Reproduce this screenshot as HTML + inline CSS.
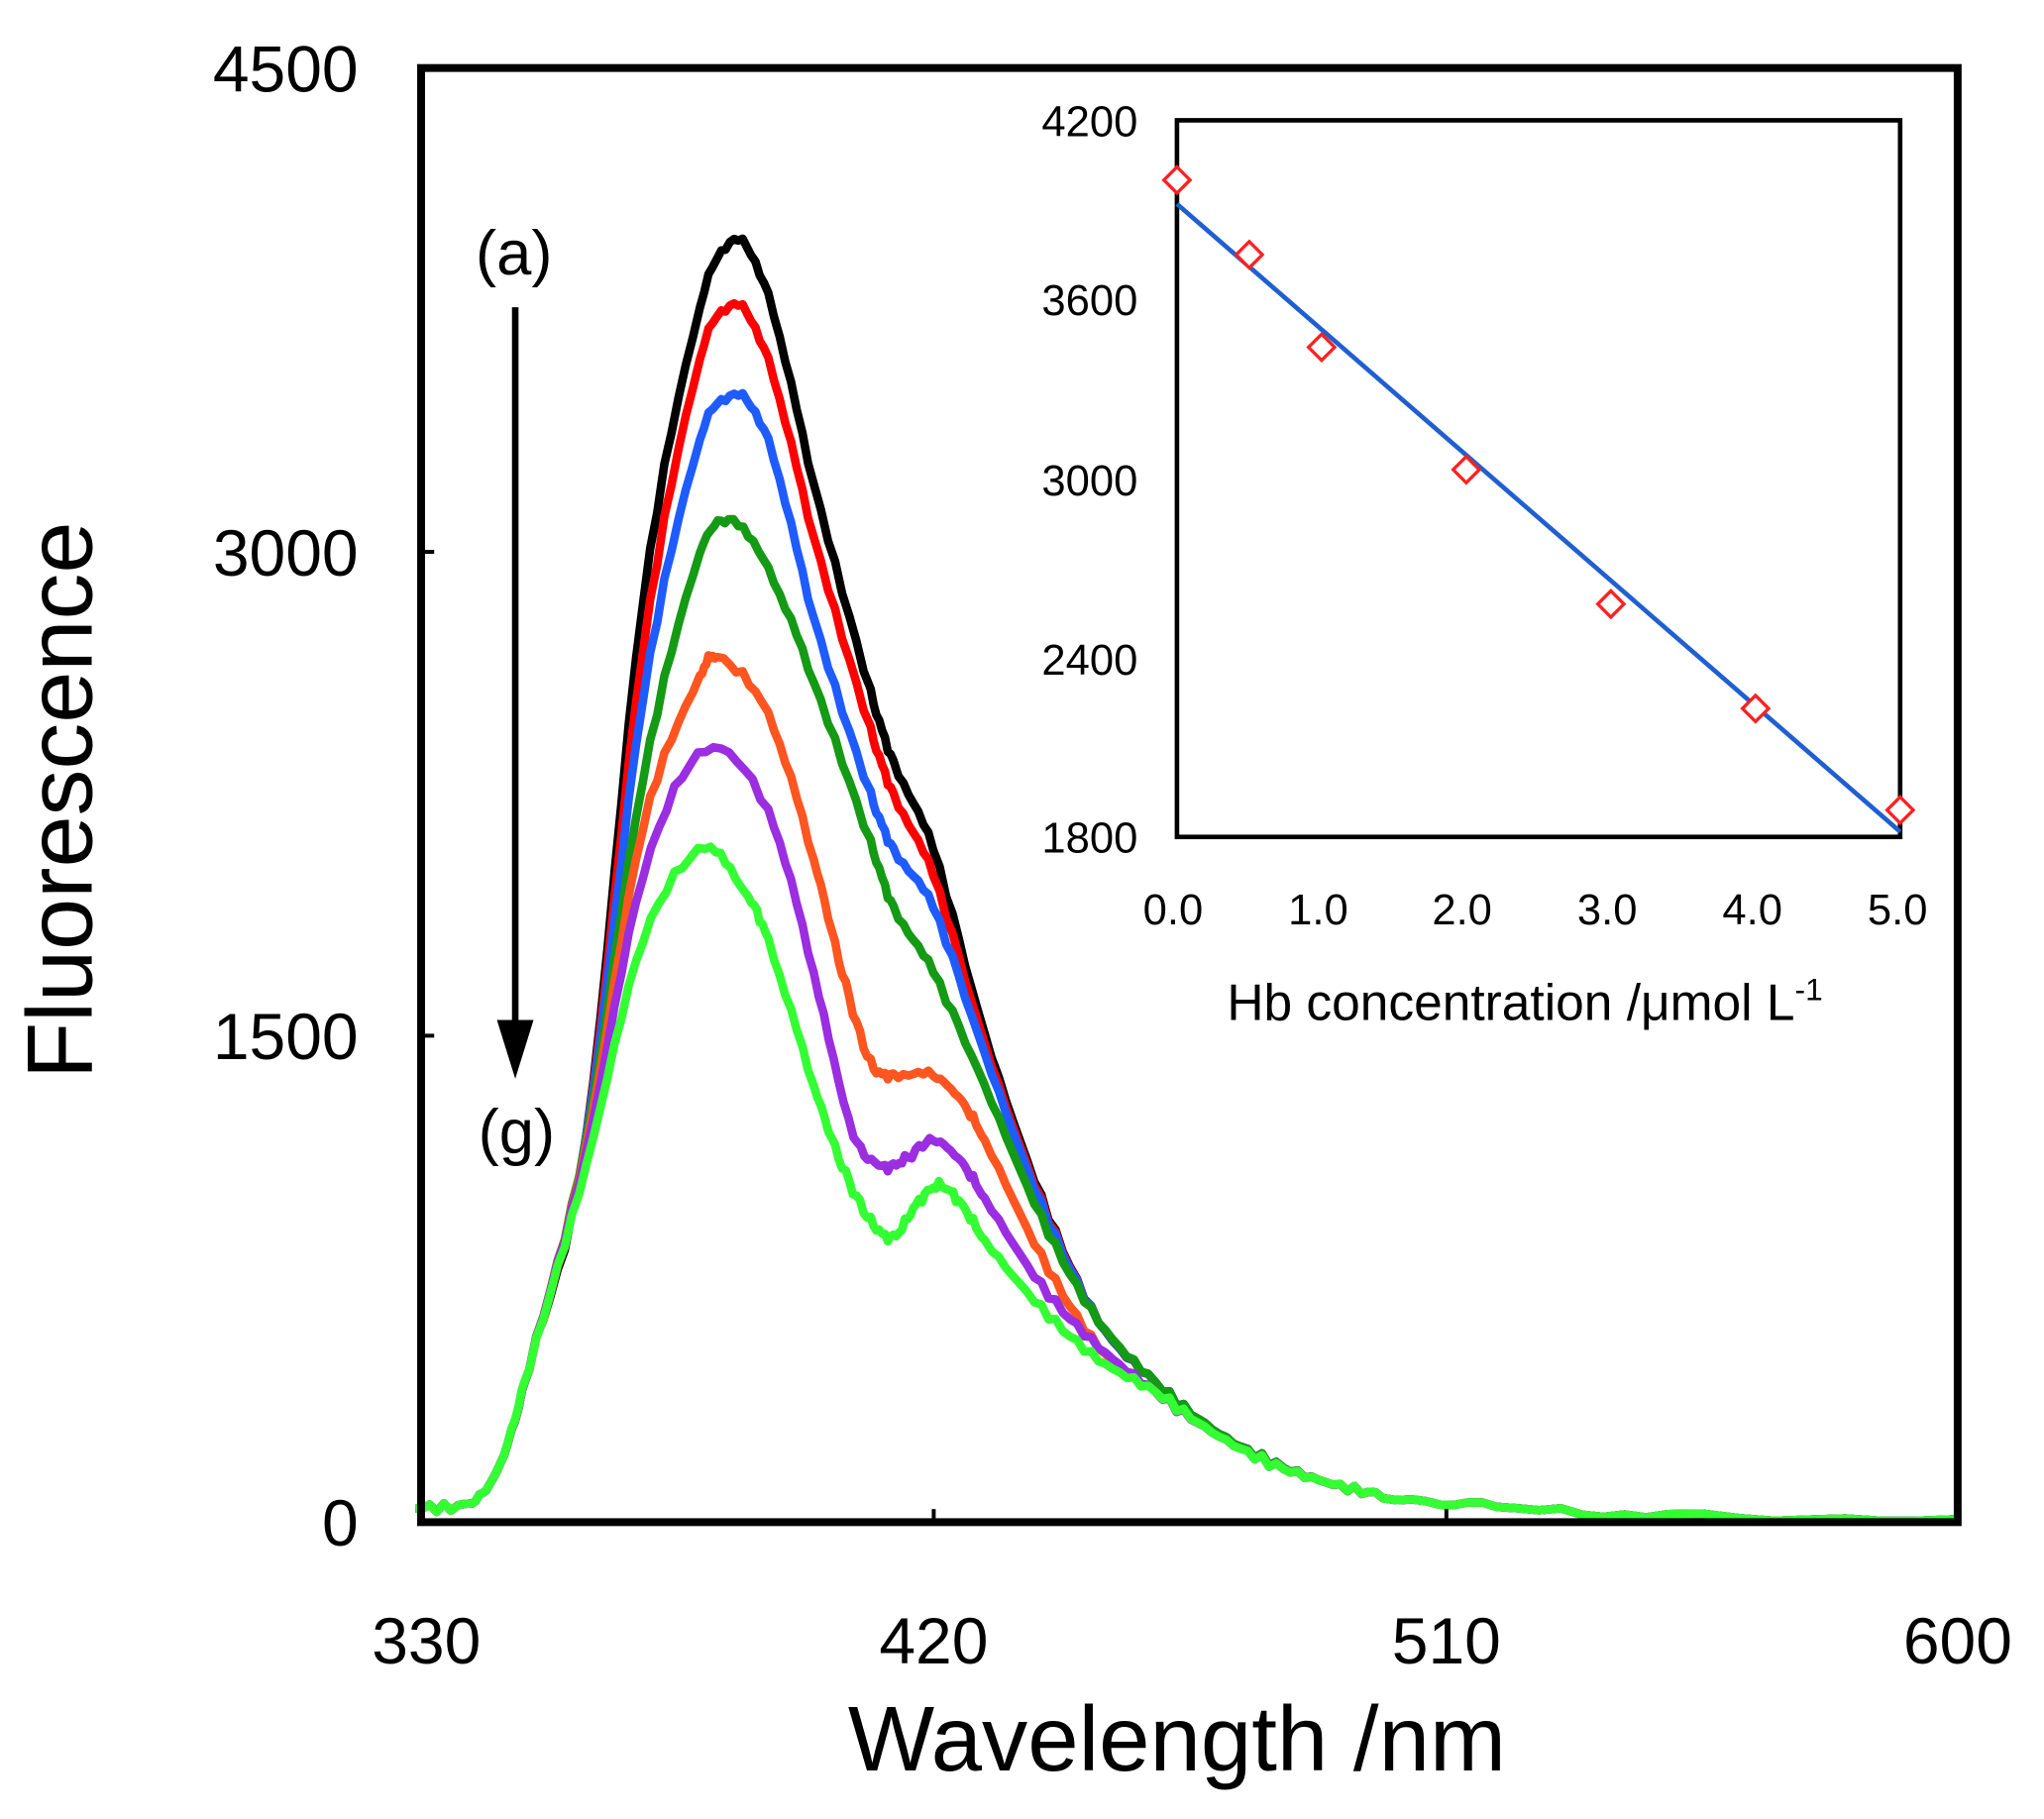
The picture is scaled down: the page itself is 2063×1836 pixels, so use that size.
<!DOCTYPE html>
<html><head><meta charset="utf-8"><style>
html,body{margin:0;padding:0;background:#fff}
svg{display:block}
text{font-family:"Liberation Sans",Arial,sans-serif}
</style></head><body>
<svg id="s" width="2063" height="1836" viewBox="0 0 1563 1391" xmlns="http://www.w3.org/2000/svg">
<rect width="1563" height="1391" fill="#fff"/>
<g id="curves" fill="none" stroke-width="6.5" stroke-linejoin="round"></g>
<rect x="322" y="52" width="1175" height="1112" fill="none" stroke="#000" stroke-width="6"/>
<g stroke="#000" stroke-width="3">
<line x1="322" y1="422" x2="332" y2="422"/><line x1="322" y1="792" x2="332" y2="792"/>
<line x1="714" y1="1164" x2="714" y2="1154"/><line x1="1106" y1="1164" x2="1106" y2="1154"/>
</g>
<g font-size="50" text-anchor="end">
<text x="274" y="70">4500</text><text x="274" y="440">3000</text><text x="274" y="810">1500</text><text x="274" y="1182">0</text>
</g>
<g font-size="50" text-anchor="middle">
<text x="326" y="1272">330</text><text x="714" y="1272">420</text><text x="1106" y="1272">510</text><text x="1497" y="1272">600</text>
</g>
<text x="900" y="1354" font-size="70" text-anchor="middle">Wavelength /nm</text>
<text transform="translate(70,612) rotate(-90)" font-size="71" text-anchor="middle">Fluorescence</text>
<text x="393" y="210" font-size="48" text-anchor="middle">(a)</text>
<text x="395" y="882" font-size="48" text-anchor="middle">(g)</text>
<line x1="394" y1="235" x2="394" y2="785" stroke="#000" stroke-width="5"/>
<polygon points="380,780 408,780 394,825" fill="#000"/>
<!-- inset -->
<rect x="900" y="92" width="553" height="548" fill="#fff" stroke="#000" stroke-width="3.5"/>
<g font-size="33" text-anchor="end">
<text x="870" y="104">4200</text><text x="870" y="241">3600</text><text x="870" y="379">3000</text><text x="870" y="516">2400</text><text x="870" y="652">1800</text>
</g>
<g font-size="33" text-anchor="middle">
<text x="897" y="707">0.0</text><text x="1008" y="707">1.0</text><text x="1118" y="707">2.0</text><text x="1229" y="707">3.0</text><text x="1340" y="707">4.0</text><text x="1451" y="707">5.0</text>
</g>
<text x="1166" y="780" font-size="39" text-anchor="middle">Hb concentration /μmol L<tspan dy="-15" font-size="24">-1</tspan></text>
<line x1="900" y1="156" x2="1453" y2="636" stroke="#1f5fd0" stroke-width="3.5"/>
<g id="pts" fill="none" stroke="#ff2020" stroke-width="2.5"></g>
</svg>
<script>
var X=function(l){return 322+(l-1-330)*1175/270;};
var Y=function(v){return 1163-v*0.2467;};
var tail=[[450,620],[460,430],[470,285],[480,185],[490,120],[500,80],[520,40],[550,15],[600,5]];
var tailL=[[450,540],[460,400],[470,275],[480,180],[490,120],[500,80],[520,40],[550,15],[600,5]];
var head=[[330,40],[340,60],[345,180],[350,480]];
var C=[
["#000",[[360,1190],[370,2850],[380,3760],[386,3970],[392,3800],[400,3215],[410,2566],[414,2350],[421,2080],[430,1510],[440,1000]],tail],
["#ff0000",[[360,1190],[370,2700],[380,3600],[386,3770],[392,3600],[400,3050],[410,2450],[414,2250],[421,2000],[430,1480],[440,990]],tail],
["#1e5cff",[[360,1190],[370,2550],[380,3350],[386,3490],[392,3350],[400,2800],[410,2250],[414,2080],[421,1900],[430,1450],[440,980]],tail],
["#149a14",[[360,1180],[370,2300],[380,3000],[385,3100],[392,2950],[400,2600],[410,2100],[414,1900],[421,1700],[430,1350],[440,940]],tail],
["#ff5520",[[360,1160],[370,2150],[380,2620],[383,2680],[392,2500],[400,2050],[405,1700],[410,1420],[414,1380],[421,1380],[426,1300],[430,1180],[440,820]],tailL],
["#9a2ee0",[[360,1140],[370,2000],[381,2390],[392,2200],[400,1700],[407,1200],[412,1100],[416,1120],[421,1180],[426,1110],[430,1000],[440,730]],tailL],
["#33ff33",[[360,1100],[370,1800],[381,2090],[388,1950],[392,1800],[400,1350],[405,1100],[410,930],[414,880],[418,980],[422,1040],[426,980],[430,870],[440,660]],[[450,500]].concat(tailL.slice(1))]
];
var g=document.getElementById('curves');
C.forEach(function(c){
 var p=head.concat(c[1],c[2]);
 var d="";
 for(var i=0;i<p.length-1;i++){
  var p0=p[Math.max(0,i-1)],p1=p[i],p2=p[i+1],p3=p[Math.min(p.length-1,i+2)];
  for(var k=0;k<8;k++){
   var t=k/8;
   var l=p1[0]+(p2[0]-p1[0])*t;
   var m1=(p2[1]-p0[1])/(p2[0]-p0[0]||1)*(p2[0]-p1[0]);
   var m2=(p3[1]-p1[1])/(p3[0]-p1[0]||1)*(p2[0]-p1[0]);
   var h00=2*t*t*t-3*t*t+1,h10=t*t*t-2*t*t+t,h01=-2*t*t*t+3*t*t,h11=t*t*t-t*t;
   var v=h00*p1[1]+h10*m1+h01*p2[1]+h11*m2;
   v+=(Math.sin(l*7.3)+Math.sin(l*3.1))*7;
   d+=(d?"L":"M")+X(l).toFixed(1)+","+Y(Math.max(v,0)).toFixed(1);
  }
 }
 var last=p[p.length-1];d+="L"+X(last[0]+1)+","+Y(last[1]);
 var e=document.createElementNS("http://www.w3.org/2000/svg","path");
 e.setAttribute("d",d);e.setAttribute("stroke",c[0]);g.appendChild(e);
});
var pts=[[0,4000],[0.5,3750],[1,3440],[2,3030],[3,2580],[4,2230],[5,1890]];
var pg=document.getElementById('pts');
pts.forEach(function(q){
 var x=900+q[0]*110.6,y=92+(4200-q[1])*548/2400,r=10;
 var e=document.createElementNS("http://www.w3.org/2000/svg","polygon");
 e.setAttribute("points",[x,y-r,x+r,y,x,y+r,x-r,y].join(" "));
 e.setAttribute("fill","#fff");pg.appendChild(e);
});
</script>
</body></html>
